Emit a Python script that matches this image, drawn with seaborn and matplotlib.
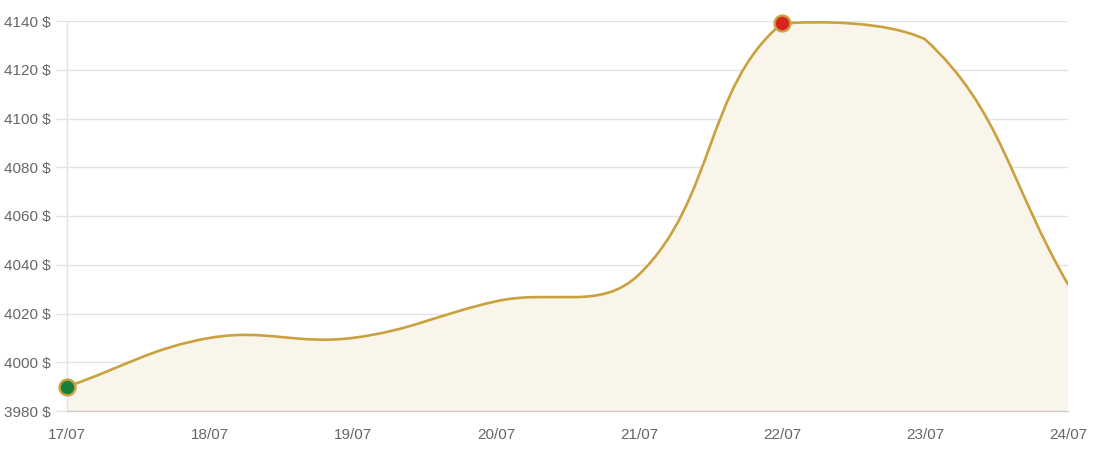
import numpy as np
import matplotlib
matplotlib.use("Agg")
import matplotlib.pyplot as plt
from matplotlib.path import Path
from matplotlib.patches import PathPatch
import seaborn as sns

# daily closing price
days = ["17/07", "18/07", "19/07", "20/07", "21/07", "22/07", "23/07", "24/07"]
prices = [3990, 4010, 4010, 4025, 4036, 4139, 4132.5, 4032]
y_ticks = [3980, 4000, 4020, 4040, 4060, 4080, 4100, 4120, 4140]

LINE = "#c9a23f"
FILL = "#faf5ea"
GRID = "#e3e3e3"
TEXT = "#666666"


def spline_controls(pts, ax, tension=0.4):
    # cubic bezier control points (chart.js style), computed in pixel space
    disp = ax.transData.transform(pts)
    bb = ax.bbox
    n = len(disp)
    before, after = [], []
    for i in range(n):
        cur = disp[i]
        prev = disp[i - 1] if i > 0 else cur
        nxt = disp[i + 1] if i < n - 1 else cur
        d01 = np.hypot(*(cur - prev))
        d12 = np.hypot(*(nxt - cur))
        tot = d01 + d12
        s01 = d01 / tot if tot else 0
        s12 = d12 / tot if tot else 0
        before.append(cur - tension * s01 * (nxt - prev))
        after.append(cur + tension * s12 * (nxt - prev))
    inv = ax.transData.inverted()

    def cap(p):
        return inv.transform([np.clip(p[0], bb.x0, bb.x1), np.clip(p[1], bb.y0, bb.y1)])

    return [cap(p) for p in before], [cap(p) for p in after]


def main():
    sns.set_theme(style="white")
    plt.rcParams["font.family"] = ["Liberation Sans", "DejaVu Sans"]

    fig = plt.figure(figsize=(10.98, 4.54), dpi=100)
    ax = fig.add_axes([67 / 1098, 1 - 411 / 454, (1068 - 67) / 1098, (411 - 21) / 454])

    x = np.arange(len(days))
    y = np.array(prices, dtype=float)
    ax.set_xlim(x[0], x[-1])
    ax.set_ylim(y_ticks[0], y_ticks[-1])

    pts = np.column_stack([x, y])
    before, after = spline_controls(pts, ax)

    verts = [pts[0]]
    codes = [Path.MOVETO]
    for i in range(len(pts) - 1):
        verts += [after[i], before[i + 1], pts[i + 1]]
        codes += [Path.CURVE4] * 3

    area_verts = verts + [(x[-1], y_ticks[0]), (x[0], y_ticks[0]), pts[0]]
    area_codes = codes + [Path.LINETO, Path.LINETO, Path.CLOSEPOLY]
    ax.add_patch(PathPatch(Path(area_verts, area_codes), facecolor=FILL,
                           edgecolor="none", zorder=1))
    ax.add_patch(PathPatch(Path(verts, codes), facecolor="none", edgecolor=LINE,
                           lw=1.9, zorder=3, capstyle="round", joinstyle="round"))

    # first point and maximum
    i_max = int(np.argmax(y))
    sns.scatterplot(x=[x[0]], y=[y[0]], ax=ax, s=130, color="#17813a",
                    edgecolor=LINE, linewidth=1.7, zorder=5, clip_on=False)
    sns.scatterplot(x=[x[i_max]], y=[y[i_max]], ax=ax, s=130, color="#d9231f",
                    edgecolor=LINE, linewidth=1.7, zorder=5, clip_on=False)

    ax.set_yticks(y_ticks)
    ax.set_yticklabels([f"{v} $" for v in y_ticks])
    ax.set_xticks(x)
    ax.set_xticklabels(days)
    ax.grid(axis="y", color=GRID, lw=1, zorder=0)
    ax.grid(axis="x", visible=False)
    ax.set_axisbelow(True)

    ax.tick_params(axis="y", length=8, width=1, color=GRID, labelsize=11,
                   labelcolor=TEXT, pad=4, left=True)
    ax.tick_params(axis="x", length=0, labelsize=11, labelcolor=TEXT, pad=12)

    for side in ["top", "right"]:
        ax.spines[side].set_visible(False)
    ax.spines["left"].set_color(GRID)
    ax.spines["left"].set_linewidth(1)
    ax.spines["bottom"].set_color("#cccccc")
    ax.spines["bottom"].set_linewidth(1)
    ax.set_xlabel("")
    ax.set_ylabel("")

    fig.savefig("out.png", dpi=100, facecolor="white")


if __name__ == "__main__":
    main()
